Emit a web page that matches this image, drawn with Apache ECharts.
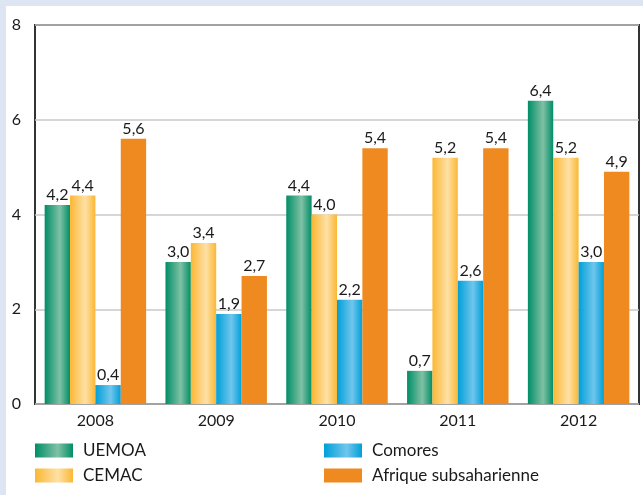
<!DOCTYPE html>
<html>
<head>
<meta charset="utf-8">
<script src="https://cdn.jsdelivr.net/npm/echarts@6/dist/echarts.min.js"></script>
<style>
  html, body { margin: 0; padding: 0; background: #dee5f2; }
  #chart { width: 643px; height: 495px; }
</style>
</head>
<body>
<div id="chart"></div>
<script>
"use strict";

const years = ["2008", "2009", "2010", "2011", "2012"];
const uemoa = [4.2, 3.0, 4.4, 0.7, 6.4];
const cemac = [4.4, 3.4, 4.0, 5.2, 5.2];
const comores = [0.4, 1.9, 2.2, 2.6, 3.0];
const afrique = [5.6, 2.7, 5.4, 5.4, 4.9];

const font = "Lato";

function band(edge, mid){
	return new echarts.graphic.LinearGradient(0, 0, 1, 0, [
		{offset: 0, color: edge},
		{offset: 0.6, color: mid},
		{offset: 1, color: edge}
	]);
}

const fmt = (p) => p.value.toFixed(1).replace(".", ",");

function bar(name, data, color){
	return {
		name: name,
		type: "bar",
		data: data,
		barGap: "0%",
		barCategoryGap: "16%",
		itemStyle: {color: color},
		label: {
			show: true,
			position: "top",
			distance: 2,
			formatter: fmt,
			color: "#1a1a1a",
			fontFamily: font,
			fontSize: 16
		}
	};
}

function legendCol(left, names){
	return {
		orient: "vertical",
		left: left, top: 442,
		padding: 0,
		itemWidth: 38, itemHeight: 14, itemGap: 8,
		icon: "rect",
		textStyle: {fontFamily: font, fontSize: 17, color: "#1a1a1a", padding: [0, 0, 0, 5]},
		data: names
	};
}

const myChart = echarts.init(document.getElementById("chart"));

myChart.setOption({
	animation: false,
	backgroundColor: "#dee5f2",
	graphic: [{
		type: "rect",
		z: -10,
		shape: {x: 6, y: 6, width: 637, height: 489},
		style: {fill: "#ffffff"}
	}],
	grid: {
		left: 35, right: 4, top: 25, bottom: 91,
		show: true,
		borderColor: "#333",
		borderWidth: 2,
		backgroundColor: "transparent"
	},
	legend: [
		legendCol(35, ["UEMOA", "CEMAC"]),
		legendCol(324, ["Comores", "Afrique subsaharienne"])
	],
	xAxis: {
		type: "category",
		data: years,
		axisLine: {show: false},
		axisTick: {show: false},
		axisLabel: {fontFamily: font, fontSize: 16, color: "#1a1a1a", margin: 9}
	},
	yAxis: {
		type: "value",
		min: 0, max: 8, interval: 2,
		axisLine: {show: false},
		axisTick: {show: false},
		splitLine: {lineStyle: {color: "#c9c9c9", width: 1.5}},
		axisLabel: {fontFamily: font, fontSize: 16, color: "#1a1a1a", margin: 14}
	},
	series: [
		bar("UEMOA", uemoa, band("#008e67", "#80c1a5")),
		bar("CEMAC", cemac, band("#fbb733", "#fee1a6")),
		bar("Comores", comores, band("#009fd9", "#70c6ec")),
		bar("Afrique subsaharienne", afrique, "#ef8a21")
	]
});
</script>
</body>
</html>
